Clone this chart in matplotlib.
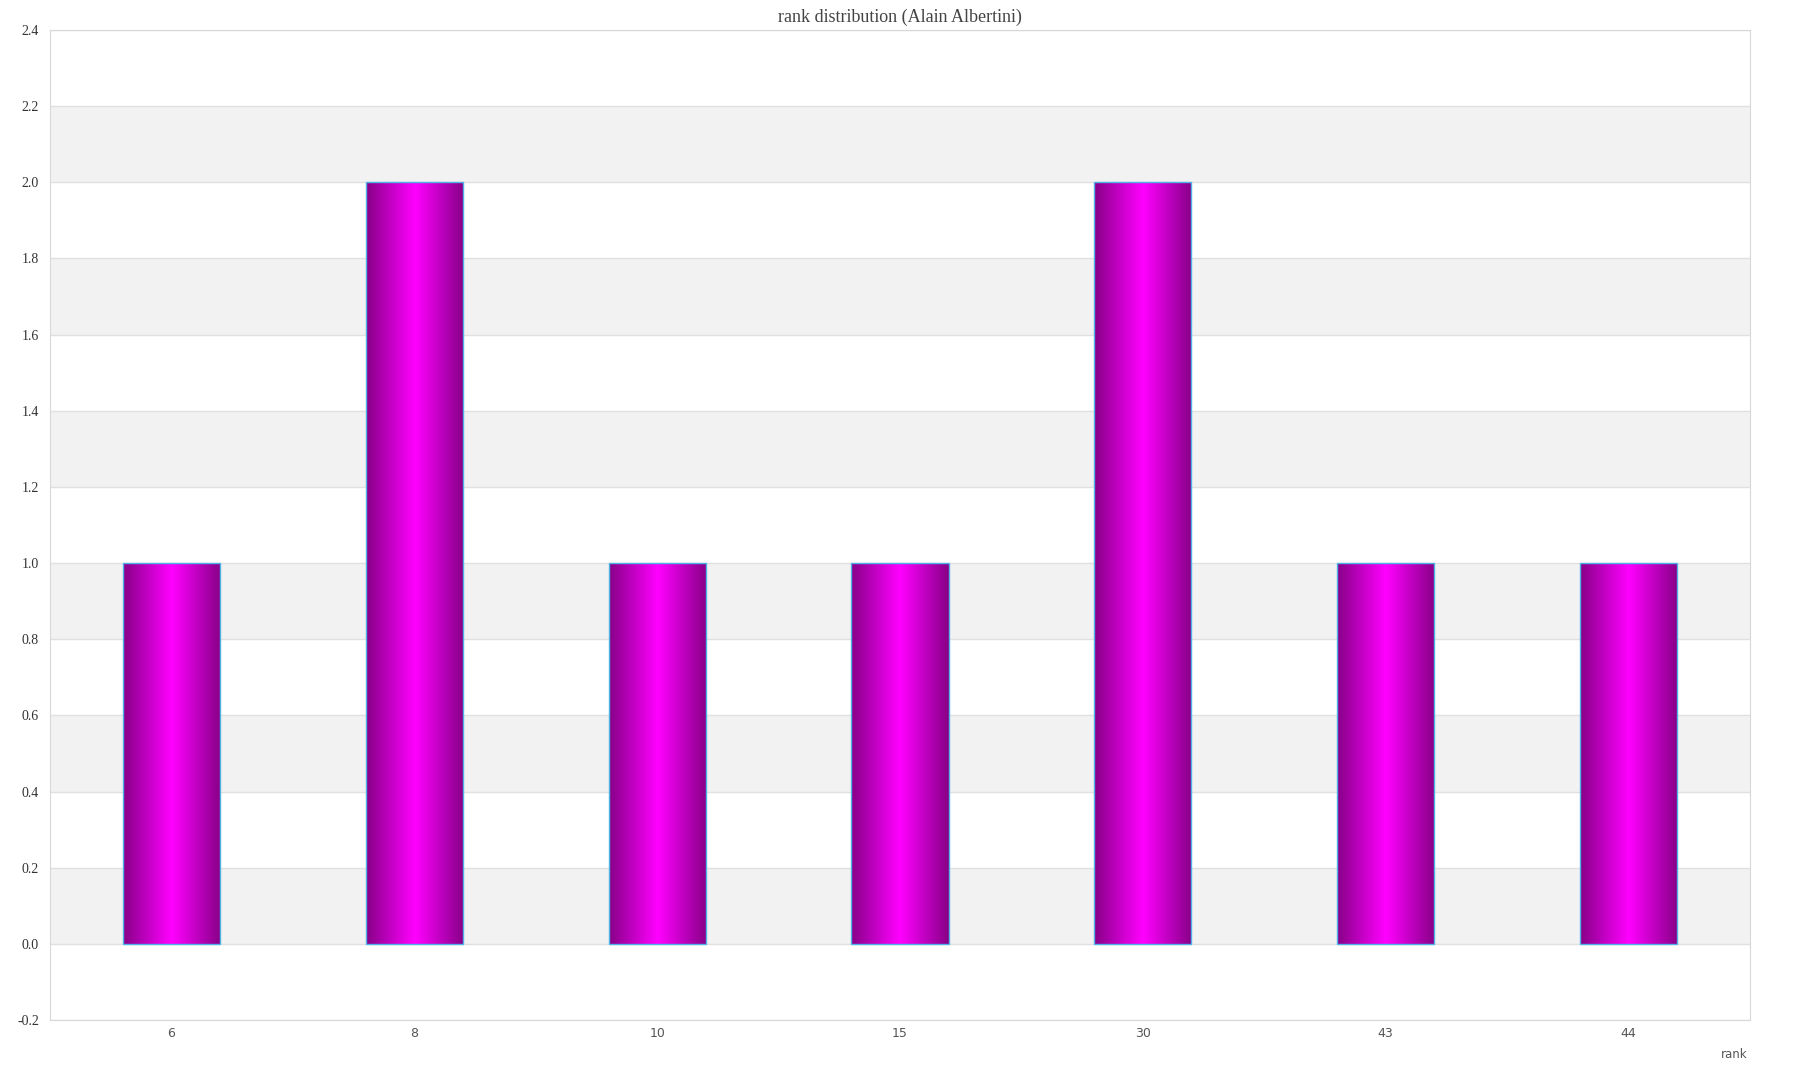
import matplotlib.pyplot as plt
import numpy as np

ranks = ["6", "8", "10", "15", "30", "43", "44"]
counts = [1, 2, 1, 1, 2, 1, 1]
y_ticks = [-0.2, 0.0, 0.2, 0.4, 0.6, 0.8, 1.0, 1.2, 1.4, 1.6, 1.8, 2.0, 2.2, 2.4]

fig = plt.figure(figsize=(18, 10.8), dpi=100)
ax = fig.add_axes([50 / 1800, 60 / 1080, 1700 / 1800, 990 / 1080])

x = np.arange(len(ranks))

# alternating grey bands
for lo in np.arange(0.0, 2.2, 0.4):
    ax.axhspan(lo, lo + 0.2, color="#f2f2f2", zorder=0, lw=0)
for t in y_ticks:
    ax.axhline(t, color="#e0e0e0", lw=1, zorder=0.5)

# gradient: dark purple -> magenta -> dark purple
g = np.abs(np.linspace(-1, 1, 256))
dark = np.array([0.53, 0.0, 0.53])
bright = np.array([1.0, 0.0, 1.0])
grad = (1 - g)[:, None] * bright + g[:, None] * dark
grad = grad[None, :, :]

width = 0.4
bars = ax.bar(x, counts, width=width, color="none", edgecolor="#4fb3e8", lw=1, zorder=3)
for b in bars:
    bx, by = b.get_x(), b.get_y()
    ax.imshow(grad, extent=[bx, bx + b.get_width(), by, by + b.get_height()],
              aspect="auto", zorder=2, interpolation="bilinear")
ax.set_xlim(-0.5, len(ranks) - 0.5)
ax.set_ylim(-0.2, 2.4)

ax.set_xticks(x)
ax.set_xticklabels(ranks, family="DejaVu Sans", fontsize=9, color="#555555")
ax.set_yticks(y_ticks)
ax.set_yticklabels([f"{t:.1f}" for t in y_ticks], family="Liberation Serif", fontsize=10, color="#333333")
ax.tick_params(axis="y", length=0, pad=8)
ax.tick_params(axis="x", length=0, pad=5)

for s in ax.spines.values():
    s.set_color("#d8d8d8")

ax.set_title("rank distribution (Alain Albertini)", family="Liberation Serif",
             fontsize=13, color="#444444", pad=6)
fig.text(1748 / 1800, 1 - 1055 / 1080, "rank", ha="right", va="center",
         family="DejaVu Sans", fontsize=8.5, color="#555555")

fig.savefig("out.png", dpi=100)
